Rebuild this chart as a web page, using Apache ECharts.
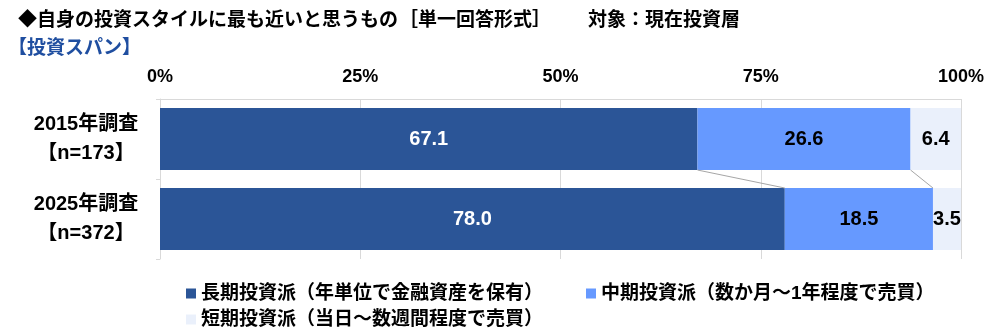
<!DOCTYPE html>
<html><head><meta charset="utf-8">
<script src="https://cdn.jsdelivr.net/npm/echarts@6/dist/echarts.min.js"></script>
<style>html,body{margin:0;padding:0;background:#fff}#c{width:1000px;height:333px}</style>
</head><body><div id="c"></div>
<script>
const categories = ['2015年調査\n【n=173】', '2025年調査\n【n=372】'];
const seriesNames = ['長期投資派（年単位で金融資産を保有）', '中期投資派（数か月～1年程度で売買）', '短期投資派（当日～数週間程度で売買）'];
const longTerm = [67.1, 78.0];
const midTerm = [26.6, 18.5];
const shortTerm = [6.4, 3.5];
const tickValues = [0, 25, 50, 75, 100];

const FONT = '"Liberation Sans", "Noto Sans CJK JP", sans-serif';
const colors = ['#2B5597', '#6699FF', '#EAF0FB'];
const labelColors = ['#ffffff', '#000000', '#000000'];
const values = [longTerm, midTerm, shortTerm];

const boundaries = [];
for (let s = 0; s < 2; s++) {
  const b = [0, 0];
  for (let c = 0; c < 2; c++) {
    let sum = 0;
    for (let k = 0; k <= s; k++) sum += values[k][c];
    b[c] = sum;
  }
  boundaries.push(b);
}

const BAR_W = 62;
const chart = echarts.init(document.getElementById('c'));
const series = values.map((v, i) => ({
  name: seriesNames[i],
  type: 'bar',
  stack: 'total',
  barWidth: BAR_W,
  data: v,
  itemStyle: { color: colors[i] },
  label: {
    show: true,
    position: 'inside',
    color: labelColors[i],
    fontFamily: FONT,
    fontSize: 20,
    fontWeight: 'bold',
    formatter: p => p.value.toFixed(1)
  },
  z: 3
}));
series.push({
  type: 'custom',
  data: boundaries,
  silent: true,
  z: 4,
  renderItem: function (params, api) {
    const a = api.coord([api.value(0), 0]);
    const b = api.coord([api.value(1), 1]);
    return {
      type: 'line',
      shape: { x1: a[0], y1: a[1] + BAR_W / 2, x2: b[0], y2: b[1] - BAR_W / 2 },
      style: { stroke: '#A6A6A6', lineWidth: 1 }
    };
  },
  encode: { x: [0, 1] }
});

const legendCommon = {
  icon: 'rect', itemWidth: 10, itemHeight: 10, itemGap: 4,
  textStyle: { fontFamily: FONT, fontSize: 19, fontWeight: 'bold', color: '#000' },
  selectedMode: false
};
const titleStyle = { fontFamily: FONT, fontSize: 19, fontWeight: 'bold', color: '#000' };

chart.setOption({
  animation: false,
  backgroundColor: '#fff',
  title: [
    { text: '◆自身の投資スタイルに最も近いと思うもの', left: 13, top: 6, textStyle: titleStyle },
    { text: '［単一回答形式］', left: 394, top: 6, textStyle: titleStyle },
    { text: '対象：現在投資層', left: 583, top: 6, textStyle: titleStyle },
    { text: '【投資スパン】', left: 3, top: 34,
      textStyle: Object.assign({}, titleStyle, { color: '#1F4EA0' }) }
  ],
  legend: [
    Object.assign({ data: [seriesNames[0]], left: 181, top: 279 }, legendCommon),
    Object.assign({ data: [seriesNames[1]], left: 581, top: 279 }, legendCommon),
    Object.assign({ data: [seriesNames[2]], left: 181, top: 305 }, legendCommon)
  ],
  grid: { left: 160, right: 39, top: 99, bottom: 74, containLabel: false },
  xAxis: {
    type: 'value', position: 'top', min: 0, max: 100, interval: 25,
    axisLine: { show: true, lineStyle: { color: '#D9D9D9' } },
    axisTick: { show: false },
    splitLine: { show: true, lineStyle: { color: '#D9D9D9' } },
    axisLabel: { fontFamily: FONT, fontSize: 18, fontWeight: 'bold', color: '#000', margin: 13,
      formatter: v => tickValues.includes(v) ? v + '%' : '' }
  },
  yAxis: {
    type: 'category', inverse: true, data: categories,
    axisLine: { show: true, lineStyle: { color: '#D9D9D9' } },
    axisTick: { show: true, length: 4, lineStyle: { color: '#D9D9D9' } },
    axisLabel: { fontFamily: FONT, fontSize: 20, fontWeight: 'bold', color: '#000', margin: 74,
      lineHeight: 29, align: 'center', padding: [4, 0, 0, 0] }
  },
  series: series
});
</script></body></html>
